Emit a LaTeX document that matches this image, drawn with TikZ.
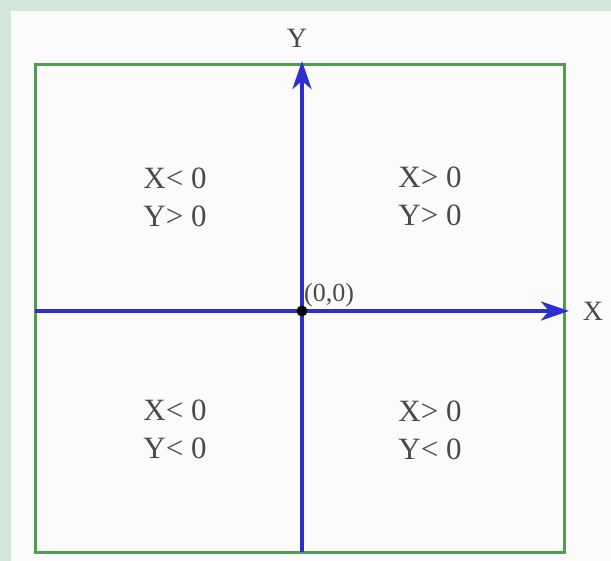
\documentclass[tikz,border=0pt]{standalone}
\usepackage{fontspec}
\setmainfont{Liberation Serif}
\usetikzlibrary{arrows.meta}
\definecolor{bgreen}{HTML}{D3E6DC}
\definecolor{boxgreen}{HTML}{4CA04C}
\definecolor{axisblue}{HTML}{2E2ED2}
\definecolor{txtgray}{HTML}{4A4A4A}
\begin{document}
\begin{tikzpicture}[x=1pt,y=-1pt,
  quad/.style={text=txtgray,font=\fontsize{31}{38}\selectfont,align=center},
  axlabel/.style={text=txtgray,font=\fontsize{28}{32}\selectfont},
  axis/.style={draw=axisblue,line width=4pt,-{Stealth[length=28pt,width=19pt,inset=8pt]}}]
\useasboundingbox (0,0) rectangle (611,561);
\fill[bgreen] (0,0) rectangle (611,561);
\fill[white!97!gray] (11,11) rectangle (611,561);
\draw[boxgreen,line width=3pt] (35,65) rectangle (564,552);
\coordinate (xl) at (35,311);
\coordinate (xr) at (569,311);
\coordinate (yb) at (302,552);
\coordinate (yt) at (302,61);
\draw[axis] (xl) -- (xr);
\draw[axis] (yb) -- (yt);
\fill[black] (302,311) circle (5.5pt) coordinate (o);
\node[anchor=south west,text=txtgray,font=\fontsize{26}{28}\selectfont,inner sep=0pt] (ol) at (304,307) {(0,0)};
\node[axlabel] (ylab) at (297,38) {Y};
\node[axlabel] (xlab) at (593,311) {X};
\node[quad] (q2) at (175,197) {X< 0\\Y> 0};
\node[quad] (q1) at (430,196) {X> 0\\Y> 0};
\node[quad] (q3) at (175,429) {X< 0\\Y< 0};
\node[quad] (q4) at (430,430) {X> 0\\Y< 0};
\end{tikzpicture}
\end{document}
